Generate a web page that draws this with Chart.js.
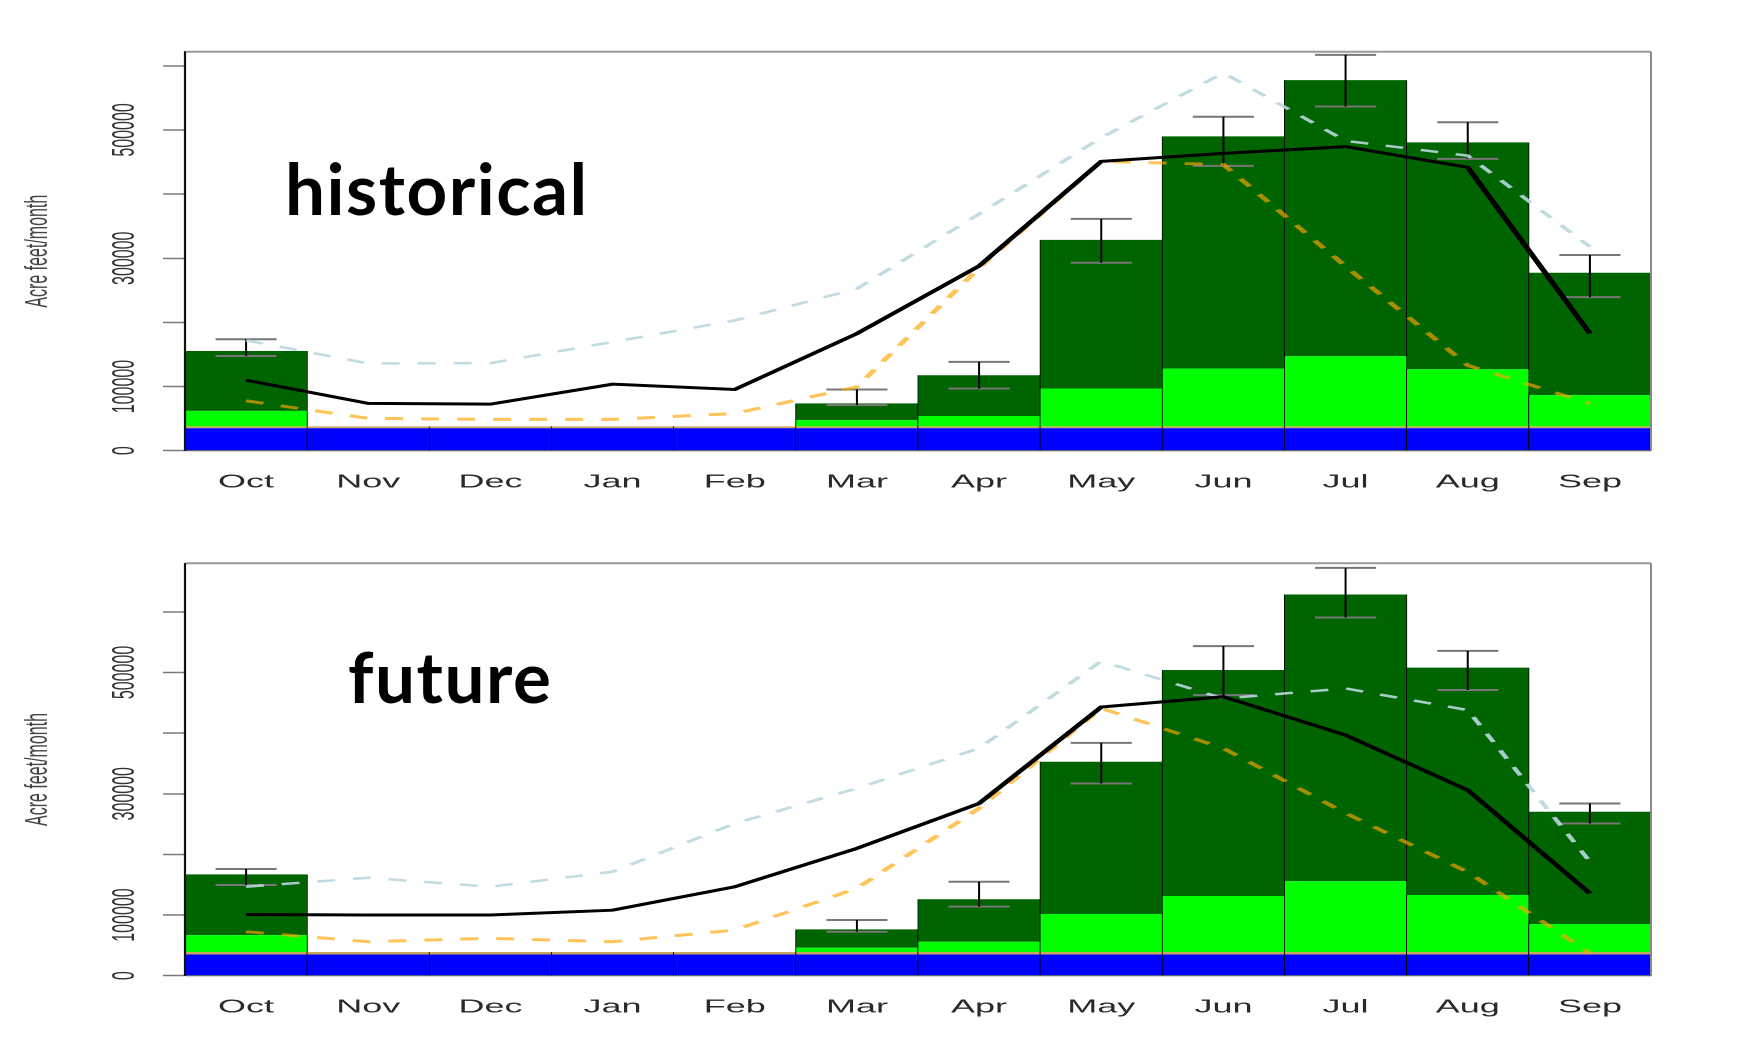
<!DOCTYPE html>
<html><head><meta charset="utf-8">
<script src="https://cdn.jsdelivr.net/npm/chart.js@4.4.1/dist/chart.umd.min.js"></script>
<style>
html,body{margin:0;padding:0;background:#fff;}
body{width:1752px;height:1037px;overflow:hidden;position:relative;}
#stretch{position:absolute;left:0;top:0;width:876px;height:1037px;transform:scaleX(2);transform-origin:0 0;}
.panel{position:absolute;left:0;width:876px;}
#p1{top:0;height:520px;}
#p2{top:520px;height:517px;}
#labels{position:absolute;left:0;top:0;pointer-events:none;}
#labels text{font-family:Lato,"Open Sans",sans-serif;font-weight:700;font-size:71px;fill:#000;letter-spacing:1.5px;}
</style></head>
<body>
<div id="stretch">
  <div class="panel" id="p1"><canvas id="c1"></canvas></div>
  <div class="panel" id="p2"><canvas id="c2"></canvas></div>
</div>
<svg id="labels" width="1752" height="1037">
  <text x="285" y="215">historical</text>
  <text x="348" y="703">future</text>
</svg>
<script>
const months = ['Oct','Nov','Dec','Jan','Feb','Mar','Apr','May','Jun','Jul','Aug','Sep'];
const yTickValues = [0, 100000, 200000, 300000, 400000, 500000, 600000];
const yTickShown = [0, 100000, 300000, 500000];
const yTitle = 'Acre feet/month';

// historical panel
const histBlue       = [35000,35000,35000,35000,35000,35000,35000,35000,35000,35000,35000,35000];
const histTan        = [3000,3000,3000,3000,3000,3000,3000,3000,3000,3000,3000,3000];
const histLightGreen = [24000,0,0,0,0,9700,16000,59000,90000,109300,89000,48600];
const histDarkGreen  = [93500,0,0,0,0,26000,63700,231700,362000,430300,353600,190800];
const histMedian     = [110000,73700,72600,103700,95500,182600,288000,451000,463500,474000,441700,182600];
const histOrange     = [77800,50400,48800,48800,58000,99500,285000,451000,446000,287500,133000,73700];
const histLightBlue  = [172000,136000,136500,169500,203000,252500,369000,488000,589000,483000,460000,318000];
const histErrLow     = [147700,null,null,null,null,71000,97000,293000,444000,536500,455000,239500];
const histErrHigh    = [173700,null,null,null,null,95500,138400,361400,520500,617000,512000,305000];

// future panel
const futBlue        = [35000,35000,35000,35000,35000,35000,35000,35000,35000,35000,35000,35000];
const futTan         = [4000,4000,4000,4000,4000,4000,4000,4000,4000,4000,4000,4000];
const futLightGreen  = [28000,0,0,0,0,7000,17000,62700,92400,117000,94000,46200];
const futDarkGreen   = [100000,0,0,0,0,30400,70000,251000,372600,472600,375000,185200];
const futMedian      = [101000,100000,100000,108000,146700,210000,284000,443000,460000,396700,306000,135800];
const futOrange      = [72600,56000,61600,56000,75300,144000,276000,441000,375000,268000,171000,37000];
const futLightBlue   = [146700,161500,146700,171400,251000,309000,375000,518700,457000,473700,438000,188000];
const futErrLow      = [149500,null,null,null,null,72500,113800,317000,462700,590700,471000,251000];
const futErrHigh     = [176000,null,null,null,null,91800,155000,384000,543400,672500,535700,284000];

const FONT = 'Liberation Sans, Arial, Helvetica, sans-serif';

function stems(lo, hi) {
  const pts = [];
  lo.forEach((l, i) => { if (l == null) return; pts.push({x:i, y:l}, {x:i, y:hi[i]}, {x:i, y:null}); });
  return pts;
}
function caps(lo, hi, half) {
  const pts = [];
  lo.forEach((l, i) => {
    if (l == null) return;
    pts.push({x:i-half, y:hi[i]}, {x:i+half, y:hi[i]}, {x:i, y:null});
    pts.push({x:i-half, y:l}, {x:i+half, y:l}, {x:i, y:null});
  });
  return pts;
}

const framePlugin = {
  id: 'frame',
  afterDatasetsDraw(chart) {
    const {ctx, chartArea: a} = chart;
    ctx.save();
    ctx.strokeStyle = '#9a9a9a'; ctx.lineWidth = 2;
    ctx.beginPath(); ctx.moveTo(a.left, a.top); ctx.lineTo(a.right, a.top); ctx.stroke();
    ctx.strokeStyle = '#888'; ctx.lineWidth = 1;
    ctx.beginPath(); ctx.moveTo(a.right, a.top); ctx.lineTo(a.right, a.bottom); ctx.stroke();
    ctx.strokeStyle = '#555'; ctx.lineWidth = 1;
    ctx.beginPath(); ctx.moveTo(a.left, a.bottom); ctx.lineTo(a.right, a.bottom); ctx.stroke();
    ctx.strokeStyle = '#111'; ctx.lineWidth = 1.1;
    ctx.beginPath(); ctx.moveTo(a.left, a.top); ctx.lineTo(a.left, a.bottom); ctx.stroke();
    ctx.restore();
  }
};

function barDs(label, data, color) {
  return {type:'bar', label, data, backgroundColor: color, borderColor:'#000',
    borderWidth:{left:0.5, right:0.5, top:0, bottom:0}, borderSkipped:false,
    stack:'bars', grouped:false, order:10, barPercentage:1, categoryPercentage:1};
}

function makeChart(id, d, g) {
  return new Chart(document.getElementById(id), {
    type: 'bar',
    data: {
      labels: months,
      datasets: [
        barDs('blue', d.blue, '#0000ff'),
        barDs('tan', d.tan, '#c9a85c'),
        barDs('light green', d.lg, '#00ff00'),
        barDs('dark green', d.dg, '#006400'),
        {type:'line', label:'err stems', data: stems(d.lo, d.hi), xAxisID:'xe', stack:'e1', order:5,
          borderColor:'#000', borderWidth:1, pointRadius:0, spanGaps:false, fill:false},
        {type:'line', label:'err caps', data: caps(d.lo, d.hi, 0.25), xAxisID:'xe', stack:'e2', order:5,
          borderColor:'#777', borderWidth:2, pointRadius:0, spanGaps:false, fill:false},
        {type:'line', label:'light blue', data: d.lb, stack:'l3', order:3,
          borderColor:'rgba(185,215,222,0.9)', borderWidth:2.5, borderDash:[9,9], pointRadius:0, fill:false, tension:0},
        {type:'line', label:'orange', data: d.or, stack:'l2', order:2,
          borderColor:'rgba(255,165,0,0.65)', borderWidth:3, borderDash:[9,9], pointRadius:0, fill:false, tension:0},
        {type:'line', label:'median', data: d.med, stack:'l1', order:1,
          borderColor:'#000', borderWidth:3, pointRadius:0, fill:false, tension:0}
      ]
    },
    options: {
      responsive: true, maintainAspectRatio: false, animation: false, devicePixelRatio: 2,
      layout: {padding: {top: g.padTop, right: 50.5, bottom: 0, left: 0}},
      plugins: {legend: {display:false}, tooltip: {enabled:false}},
      scales: {
        x: {type:'category', stacked:true, offset:true,
            afterFit: s => { s.height = g.axisH; },
            grid: {display:false, drawTicks:false}, border: {display:false},
            ticks: {padding: 21, color:'#2a2a2a', maxRotation:0, autoSkip:false, font:{family:FONT, size:18}}},
        xe: {type:'linear', display:false, offset:false, min:-0.5, max:11.5, grace:0},
        y: {stacked:true, min:0, max:g.yMax,
            afterBuildTicks: s => { s.ticks = yTickValues.map(v => ({value: v})); },
            afterFit: s => { s.width = 92.5; },
            border: {display:true, color:'#111', width:1},
            grid: {drawOnChartArea:false, drawTicks:true, tickLength:11, tickColor:'#7a7a7a', tickWidth:1.5},
            ticks: {autoSkip:false, minRotation:90, maxRotation:90,
                    crossAlign:'center', padding:-7.7, color:'#333', font:{family:FONT, size:16},
                    callback: v => yTickShown.includes(v) ? String(v) : ''},
            title: {display:true, text:yTitle, color:'#444', font:{family:FONT, size:16}, padding:{top:9.4, bottom:0}}}
      }
    },
    plugins: [framePlugin]
  });
}

makeChart('c1', {blue:histBlue, tan:histTan, lg:histLightGreen, dg:histDarkGreen, med:histMedian,
  or:histOrange, lb:histLightBlue, lo:histErrLow, hi:histErrHigh}, {yMax:622000, padTop:51.7, axisH:69.3});
makeChart('c2', {blue:futBlue, tan:futTan, lg:futLightGreen, dg:futDarkGreen, med:futMedian,
  or:futOrange, lb:futLightBlue, lo:futErrLow, hi:futErrHigh}, {yMax:680000, padTop:43.3, axisH:61.3});
</script>
</body></html>
